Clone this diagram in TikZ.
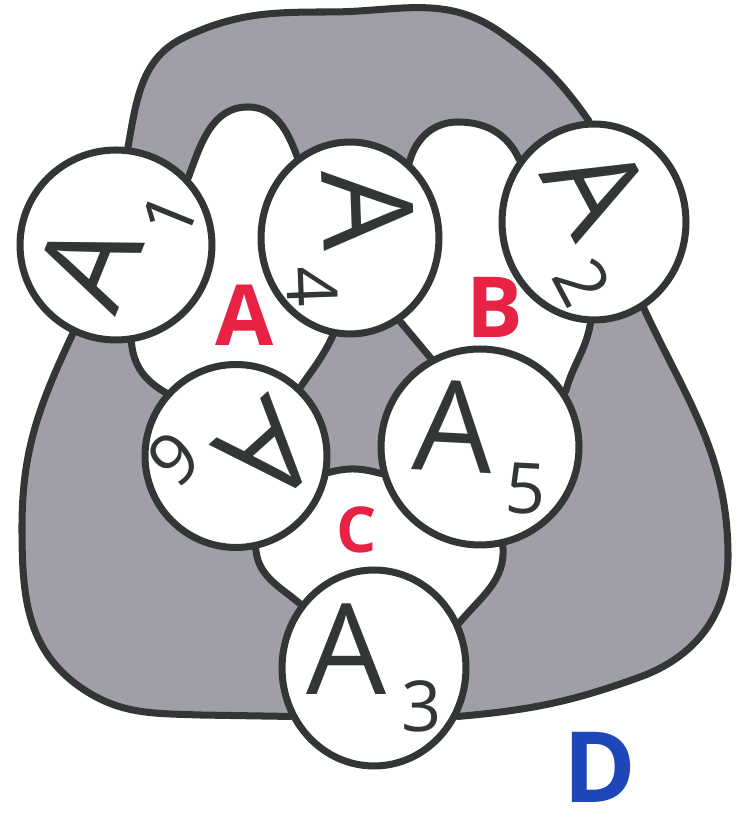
\documentclass[tikz,border=0pt]{standalone}
\usepackage{fontspec}
\setmainfont{Open Sans}
\usetikzlibrary{shapes.geometric,backgrounds}

\definecolor{ink}{RGB}{50,54,52}
\definecolor{marker}{RGB}{162,158,168}
\definecolor{holered}{RGB}{232,34,66}
\definecolor{outblue}{RGB}{30,70,185}
\newcommand{\lowidx}[1]{\kern0.12em\raisebox{-0.3em}{\fontsize{40}{40}\selectfont #1}}

\begin{document}
\begin{tikzpicture}[x=0.02cm, y=0.02cm,
	ring/.style={ellipse, draw=ink, line width=4pt, fill=white, inner sep=0pt},
	tag/.style={text=ink, font=\fontsize{72}{72}\selectfont, inner sep=0pt},
	hole/.style={text=holered, font=\bfseries\fontsize{48}{48}\selectfont, inner sep=0pt},
	seam/.style={draw=ink, line width=4pt, line cap=round, line join=round}]
	\useasboundingbox (0,0) rectangle (738,827);
	% the six sets
	\node[ring, minimum width=3.84cm, minimum height=3.80cm] (a1) at (116,582) {};
	\node[ring, minimum width=3.56cm, minimum height=3.84cm] (a4) at (350,589) {};
	\node[ring, minimum width=3.68cm, minimum height=3.92cm] (a2) at (594,605) {};
	\node[ring, minimum width=3.64cm, minimum height=3.66cm] (a6) at (236,371) {};
	\node[ring, minimum width=3.96cm, minimum height=3.92cm] (a5) at (480,380) {};
	\node[ring, minimum width=3.68cm, minimum height=3.92cm] (a3) at (374,159) {};
	\node[tag, rotate=68] (t1) at (a1) {A\lowidx{1}};
	\node[tag, rotate=-88] (t4) at (a4) {A\lowidx{4}};
	\node[tag, rotate=-62] (t2) at (a2) {A\lowidx{2}};
	\node[tag, rotate=-138] (t6) at (a6) {A\lowidx{6}};
	\node[tag, rotate=-3] (t5) at (a5) {A\lowidx{5}};
	\node[tag] (t3) at (a3) {A\lowidx{3}};
	% region names
	\node[hole] (ra) at (245,512) {A};
	\node[hole] (rb) at (495,520) {B};
	\node[hole, font=\bfseries\fontsize{36}{36}\selectfont] (rc) at (357,297) {C};
	\node[hole, text=outblue, font=\bfseries\fontsize{56}{56}\selectfont] (rd) at (600,60) {D};

	\begin{pgfonlayer}{background}
		% outer band D
		\draw[seam, fill=marker] (a1.center) -- (a1.244) to[out=245,in=90] (22,300)
			to[out=-90,in=145] (80,140) to[out=-35,in=178] (200,112) -- (a3.210)
			-- (a3.center) -- (a3.330) to[out=5,in=200] (640,150)
			to[out=20,in=-90] (728,270) to[out=90,in=-65] (a2.300)
			-- (a2.center) -- (a2.93) to[out=125,in=-35] (500,795)
			to[out=145,in=0] (330,815) to[out=180,in=25] (185,790)
			to[out=205,in=80] (a1.83) -- cycle;
		% hole A
		\draw[seam, fill=white] (a1.center) -- (a1.43) to[out=70,in=180] (248,720)
			to[out=0,in=110] (a4.123) -- (a4.center) -- (a4.260) to[out=245,in=55] (a6.47)
			-- (a6.center) -- (a6.138) to[out=150,in=-85] (a1.279) -- cycle;
		% hole B
		\draw[seam, fill=white] (a4.center) -- (a4.52) to[out=75,in=180] (458,705)
			to[out=0,in=115] (a2.140) -- (a2.center) -- (a2.268) to[out=-100,in=75] (a5.33)
			-- (a5.center) -- (a5.119) to[out=130,in=-50] (a4.301) -- cycle;
		% hole C
		\draw[seam, fill=white] (a6.center) -- (a6.350) to[out=15,in=165] (a5.195)
			-- (a5.center) -- (a5.283) to[out=-85,in=50] (a3.28)
			-- (a3.center) -- (a3.139) to[out=140,in=-85] (a6.282) -- cycle;
	\end{pgfonlayer}
\end{tikzpicture}
\end{document}
